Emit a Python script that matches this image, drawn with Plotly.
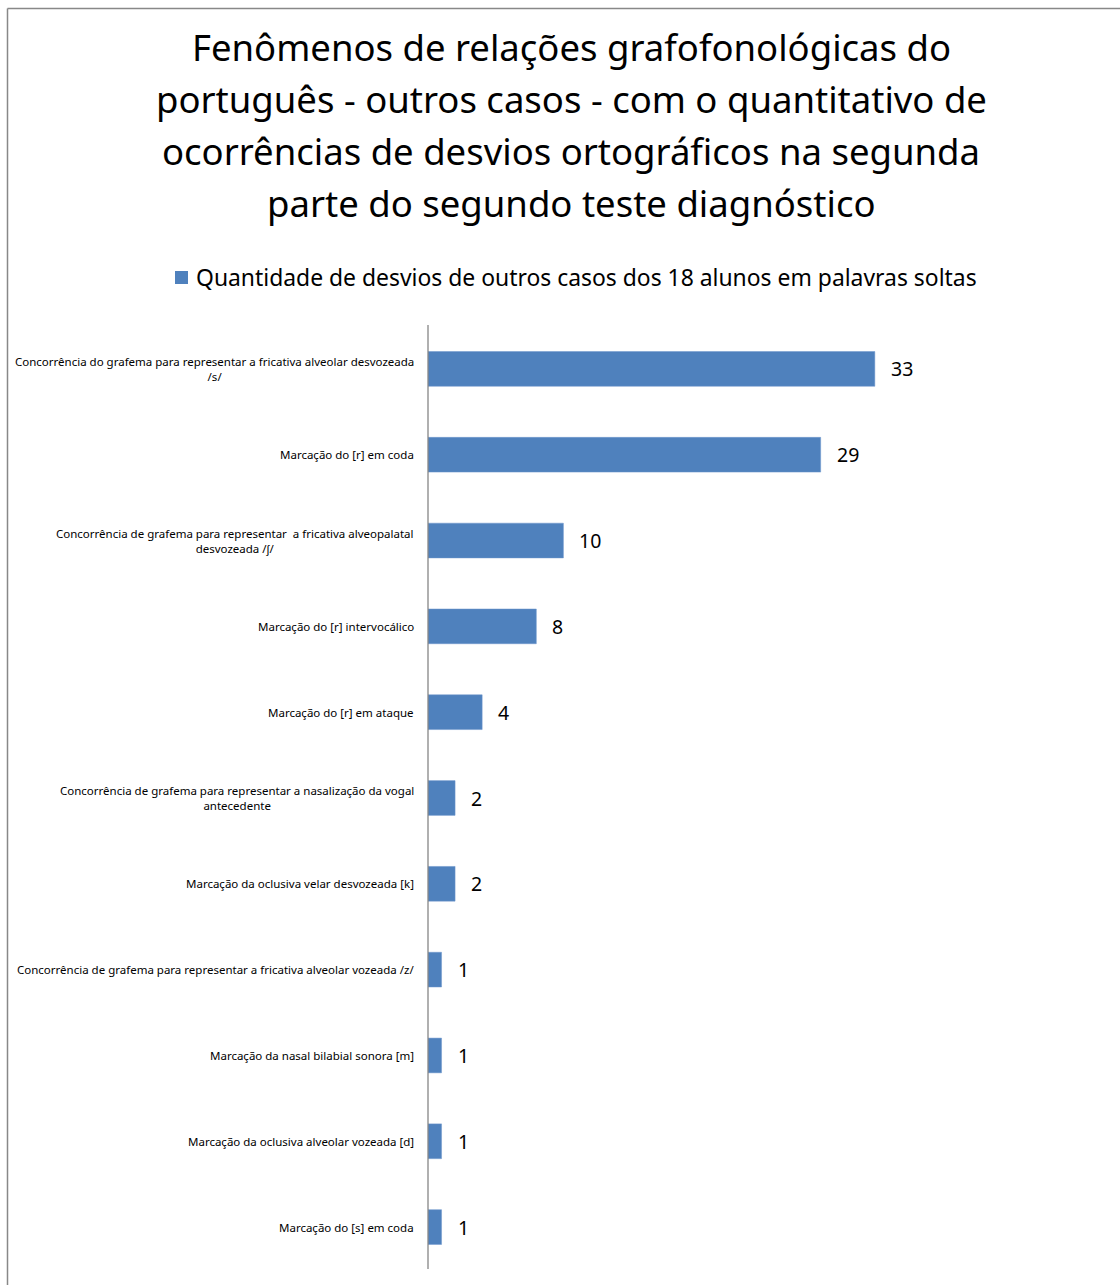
import plotly.graph_objects as go

categories = [
    "Concorrência do grafema para representar a fricativa alveolar desvozeada<br>/s/",
    "Marcação do [r] em coda",
    "Concorrência de grafema para representar  a fricativa alveopalatal<br>desvozeada /ʃ/",
    "Marcação do [r] intervocálico",
    "Marcação do [r] em ataque",
    "Concorrência de grafema para representar a nasalização da vogal<br>antecedente",
    "Marcação da oclusiva velar desvozeada [k]",
    "Concorrência de grafema para representar a fricativa alveolar vozeada /z/",
    "Marcação da nasal bilabial sonora [m]",
    "Marcação da oclusiva alveolar vozeada [d]",
    "Marcação do [s] em coda",
]
values = [33, 29, 10, 8, 4, 2, 2, 1, 1, 1, 1]
series_name = "Quantidade de desvios de outros casos dos 18 alunos em palavras soltas"
title_lines = [
    "Fenômenos de relações grafofonológicas do",
    "português - outros casos - com o quantitativo de",
    "ocorrências de desvios ortográficos na segunda",
    "parte do segundo teste diagnóstico",
]

FONT = "Noto Sans"
BAR = "#4F81BD"

W, H = 1120, 1285
ML, MR, MT, MB = 428, 15, 326, 15
pw, ph = W - ML - MR, H - MT - MB


def px_to_paper_x(px):
    return (px - ML) / pw


def px_to_paper_y(py):
    return (H - MB - py) / ph


fig = go.Figure()
fig.add_trace(go.Bar(
    y=list(range(len(categories))),
    x=values,
    orientation="h",
    marker=dict(color=BAR, line=dict(color="#6F97CC", width=0.5)),
    name=series_name,
    showlegend=False,
))

annotations = []
# category labels, centred text blocks ending just left of the axis
for i, c in enumerate(categories):
    annotations.append(dict(
        x=0, xref="paper", xanchor="right", xshift=-12,
        y=i, yref="y", yanchor="middle",
        text=c, align="center", showarrow=False,
        font=dict(family=FONT, size=11.5, color="#000000"),
    ))
# value labels
for i, v in enumerate(values):
    annotations.append(dict(
        x=v, xref="x", xanchor="left", xshift=14,
        y=i, yref="y", yanchor="middle",
        text=str(v), showarrow=False,
        font=dict(family=FONT, size=19.5, color="#000000"),
    ))
# title, one annotation per line
for k, line in enumerate(title_lines):
    annotations.append(dict(
        x=px_to_paper_x(571), xref="paper", xanchor="center",
        y=px_to_paper_y(47 + 52 * k), yref="paper", yanchor="middle",
        text=line, showarrow=False,
        font=dict(family=FONT, size=36.5, color="#000000"),
    ))
# legend entry
annotations.append(dict(
    x=px_to_paper_x(194), xref="paper", xanchor="left",
    y=px_to_paper_y(278), yref="paper", yanchor="middle",
    text=series_name, showarrow=False,
    font=dict(family=FONT, size=22.9, color="#000000"),
))

fig.update_layout(
    width=W, height=H,
    margin=dict(l=ML, r=MR, t=MT, b=MB),
    paper_bgcolor="white", plot_bgcolor="white",
    bargap=0.595,
    showlegend=False,
    font=dict(family=FONT, color="#000000"),
    xaxis=dict(range=[0, 50], visible=False, fixedrange=True),
    yaxis=dict(
        range=[len(categories) - 0.5, -0.5],
        showticklabels=False, showgrid=False, zeroline=False,
        showline=False, ticks="",
    ),
    annotations=annotations,
    shapes=[
        # outer chart border, left and top edges
        dict(type="line", xref="paper", yref="paper",
             x0=px_to_paper_x(7.5), x1=px_to_paper_x(7.5),
             y0=px_to_paper_y(1290), y1=px_to_paper_y(8.5),
             line=dict(color="#888888", width=1.5)),
        dict(type="line", xref="paper", yref="paper",
             x0=px_to_paper_x(7.5), x1=px_to_paper_x(1125),
             y0=px_to_paper_y(8.5), y1=px_to_paper_y(8.5),
             line=dict(color="#888888", width=1.5)),
        # legend swatch
        dict(type="rect", xref="paper", yref="paper",
             x0=px_to_paper_x(175), x1=px_to_paper_x(188),
             y0=px_to_paper_y(284), y1=px_to_paper_y(271),
             fillcolor=BAR, line=dict(width=0)),
        # category axis line
        dict(type="line", xref="paper", yref="paper",
             x0=0, x1=0, y0=px_to_paper_y(1269), y1=px_to_paper_y(325),
             line=dict(color="#868686", width=1.3)),
    ],
)

fig.write_html("out.html")
